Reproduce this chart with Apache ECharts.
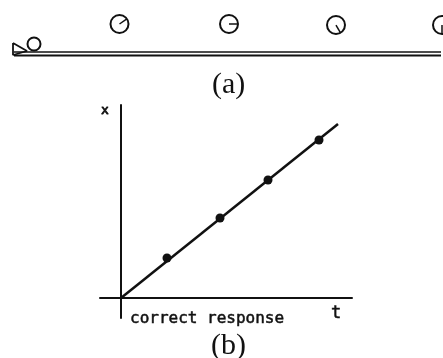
<!DOCTYPE html>
<html>
<head>
<meta charset="utf-8">
<style>
  html, body { margin: 0; padding: 0; background: #fff; }
  #chart { width: 443px; height: 358px; }
</style>
<script src="https://cdn.jsdelivr.net/npm/echarts@6/dist/echarts.min.js"></script>
</head>
<body>
<div id="chart"></div>
<script>
// panel (a), values
const ballX = [119.5, 229, 336, 442]
const ballY = [24, 24, 25, 25]
const spokeDeg = [-35, 0, 60, 90]
const restBall = [34, 44]
const ramp = [[13, 43], [13, 55], [27, 51], [13, 43]]
const trackTop = [[14, 52], [441, 52]]
const trackBottom = [[14, 55.5], [441, 55.5]]

// panel (b)
const responseLine = [[0, 0], [217, 174]]
const responsePoints = [[46, 40], [99, 80], [147, 118], [198, 158]]

const ink = '#111'
const chart = echarts.init(document.getElementById('chart'))

function drawBall (params, api) {
  const c = api.coord([api.value(0), api.value(1)])
  const r = api.value(3)
  const a = api.value(2) * Math.PI / 180
  return {
    type: 'group',
    children: [
      { type: 'circle', shape: { cx: c[0], cy: c[1], r: r }, style: { fill: '#fff', stroke: ink, lineWidth: 2 } },
      r > 7 ? { type: 'line', shape: { x1: c[0], y1: c[1], x2: c[0] + r * Math.cos(a), y2: c[1] + r * Math.sin(a) }, style: { stroke: ink, lineWidth: 1.5 } } : { type: 'group' }
    ]
  }
}

const ballData = ballX.map((x, i) => [x, ballY[i], spokeDeg[i], 9])
ballData.push([restBall[0], restBall[1], 0, 6.5])

const thin = (data, w, grid) => ({
  type: 'line', data: data, xAxisIndex: grid, yAxisIndex: grid, showSymbol: false, silent: true,
  lineStyle: { color: ink, width: w }
})

const label = (text, left, top, font, size, heavy) => ({
  text: text, left: left, top: top, padding: 0,
  textStyle: {
    fontFamily: font, fontSize: size, fontWeight: 'normal', color: ink,
    textBorderColor: ink, textBorderWidth: heavy
  }
})

chart.setOption({
  animation: false,
  backgroundColor: '#fff',
  title: [
    label('(a)', 212, 70, 'Liberation Serif', 30, 0),
    label('(b)', 211, 331, 'Liberation Serif', 30, 0),
    label('x', 101, 104, 'DejaVu Sans Mono', 13, 0.8),
    label('t', 331, 305, 'DejaVu Sans Mono', 17, 0.5),
    label('correct response', 130, 311, 'DejaVu Sans Mono', 16, 0.5)
  ],
  grid: [
    { left: 0, right: 0, top: 0, height: 70 },
    { left: 100, right: 91, top: 105, bottom: 40 }
  ],
  xAxis: [
    { gridIndex: 0, type: 'value', min: 0, max: 443, show: false },
    {
      gridIndex: 1, type: 'value', min: -21, max: 231,
      axisLine: { show: true, onZero: true, lineStyle: { color: ink, width: 2 } },
      axisTick: { show: false }, axisLabel: { show: false }, splitLine: { show: false }
    }
  ],
  yAxis: [
    { gridIndex: 0, type: 'value', min: 0, max: 70, inverse: true, show: false },
    {
      gridIndex: 1, type: 'value', min: -20, max: 193,
      axisLine: { show: true, onZero: true, lineStyle: { color: ink, width: 2 } },
      axisTick: { show: false }, axisLabel: { show: false }, splitLine: { show: false }
    }
  ],
  series: [
    thin(trackTop, 1.5, 0),
    thin(trackBottom, 2, 0),
    thin(ramp, 1.8, 0),
    { type: 'custom', xAxisIndex: 0, yAxisIndex: 0, data: ballData, renderItem: drawBall, silent: true, clip: true },
    thin(responseLine, 2.5, 1),
    {
      type: 'scatter', xAxisIndex: 1, yAxisIndex: 1, data: responsePoints, symbolSize: 9, silent: true,
      itemStyle: { color: ink, opacity: 1 }
    }
  ]
})
</script>
</body>
</html>
